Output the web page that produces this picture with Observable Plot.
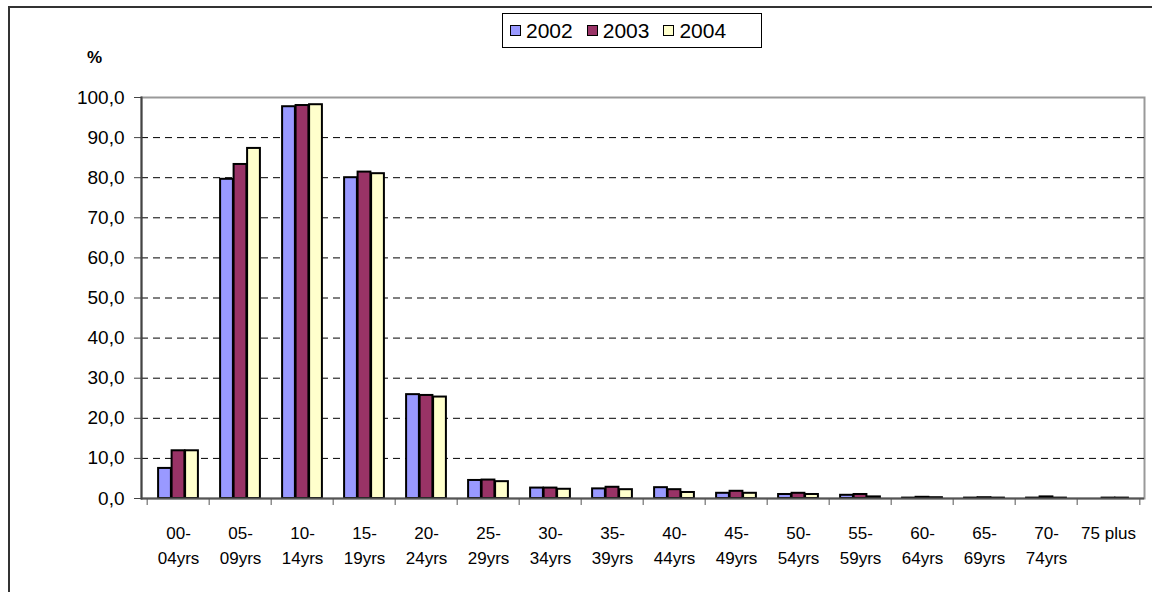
<!DOCTYPE html>
<html>
<head>
<meta charset="utf-8">
<script src="https://cdn.jsdelivr.net/npm/d3@7"></script>
<script src="https://cdn.jsdelivr.net/npm/@observablehq/plot@0.6"></script>
<style>
html, body { margin: 0; padding: 0; background: #fff; overflow: hidden; width: 1152px; height: 592px; }
#wrap { position: relative; width: 1152px; height: 592px; font-family: "Liberation Sans", Arial, sans-serif; overflow: hidden; }
#outer { position: absolute; left: 8px; top: 6px; width: 1300px; height: 800px; border-left: 2px solid #333; border-top: 2px solid #333; }
#chart { position: absolute; left: 0; top: 0; }
#pct { position: absolute; left: 87px; top: 48px; font-size: 17px; font-weight: bold; color: #000; }
#legend { position: absolute; left: 502px; top: 13px; width: 260px; height: 35px; border: 1px solid #000; background: #fff;
  display: flex; align-items: center; justify-content: flex-start; padding-left: 7px; gap: 14px; font-size: 21px; color: #000; box-sizing: border-box; }
#legend .item { display: flex; align-items: center; gap: 5px; }
#legend .sw { width: 9px; height: 9px; border: 1.5px solid #000; }
</style>
</head>
<body>
<div id="wrap">
  <div id="outer"></div>
  <div id="chart"></div>
  <div id="pct">%</div>
  <div id="legend"></div>
</div>
<script>
// ---- data ----
const categories = ["00-04yrs","05-09yrs","10-14yrs","15-19yrs","20-24yrs","25-29yrs","30-34yrs","35-39yrs",
  "40-44yrs","45-49yrs","50-54yrs","55-59yrs","60-64yrs","65-69yrs","70-74yrs","75 plus"];
const xLabels = ["00-\n04yrs","05-\n09yrs","10-\n14yrs","15-\n19yrs","20-\n24yrs","25-\n29yrs","30-\n34yrs","35-\n39yrs",
  "40-\n44yrs","45-\n49yrs","50-\n54yrs","55-\n59yrs","60-\n64yrs","65-\n69yrs","70-\n74yrs","75 plus"];
const years = ["2002","2003","2004"];
const v2002 = [7.5, 79.6, 97.7, 80.0, 25.9, 4.5, 2.6, 2.4, 2.7, 1.3, 1.0, 0.8, 0.1, 0.1, 0.1, 0.0];
const v2003 = [11.9, 83.3, 98.0, 81.4, 25.7, 4.6, 2.6, 2.8, 2.2, 1.8, 1.3, 1.0, 0.3, 0.2, 0.4, 0.1];
const v2004 = [11.9, 87.3, 98.2, 81.0, 25.3, 4.2, 2.3, 2.2, 1.5, 1.3, 1.0, 0.4, 0.2, 0.1, 0.1, 0.1];
const yTicks = [0, 10, 20, 30, 40, 50, 60, 70, 80, 90, 100];
const colors = ["#9999FF", "#993366", "#FFFFCC"];

// ---- build ----
const series = [v2002, v2003, v2004];
const data = categories.flatMap((c, i) => years.map((yr, j) => ({cat: c, year: yr, value: series[j][i]})));

const W = 1152, H = 592, mL = 141, mR = 8, mT = 97, mB = 94;
const step = (W - mL - mR) / categories.length;
const bw = 13.5;
const inset = (step - bw) / 2;
const fmt = d => d.toFixed(1).replace(".", ",");

const bars = years.map((yr, j) => Plot.barY(data.filter(d => d.year === yr), {
  x: "cat", y: "value", fill: colors[j], stroke: "#000", strokeWidth: 2,
  insetLeft: inset, insetRight: inset, dx: (j - 1) * bw
}));

const chart = Plot.plot({
  width: W, height: H,
  marginLeft: mL, marginRight: mR, marginTop: mT, marginBottom: mB,
  style: {fontFamily: "'Liberation Sans', Arial, sans-serif", background: "transparent", color: "#000"},
  x: {type: "band", domain: categories, padding: 0},
  y: {domain: [0, 100]},
  marks: [
    Plot.frame({stroke: "#999", strokeWidth: 2}),
    Plot.ruleY(yTicks.filter(t => t > 0 && t < 100), {stroke: "#000", strokeWidth: 1, strokeDasharray: "7,5"}),
    ...bars,
    Plot.ruleY([0], {stroke: "#555", strokeWidth: 2}),
    Plot.frame({anchor: "left", stroke: "#444", strokeWidth: 2}),
    Plot.axisY({ticks: yTicks, tickFormat: fmt, tickSize: 7, tickPadding: 10, fontSize: 19, stroke: "#444", fill: "#000", label: null}),
    Plot.axisX({tickSize: 0, tickPadding: 22, fontSize: 17, lineHeight: 1.5, fill: "#000", label: null,
      tickFormat: (d) => xLabels[categories.indexOf(d)]}),
    Plot.axisX({tickSize: 7, tickFormat: () => "", dx: -step / 2, stroke: "#555", label: null}),
    Plot.axisX({ticks: [categories[categories.length - 1]], tickSize: 7, tickFormat: () => "", dx: step / 2, stroke: "#555", label: null})
  ]
});
document.getElementById("chart").appendChild(chart);

// legend
const leg = document.getElementById("legend");
years.forEach((yr, j) => {
  const it = document.createElement("div");
  it.className = "item";
  const sw = document.createElement("div");
  sw.className = "sw";
  sw.style.background = colors[j];
  const t = document.createElement("span");
  t.textContent = yr;
  it.appendChild(sw); it.appendChild(t);
  leg.appendChild(it);
});
</script>
</body>
</html>
